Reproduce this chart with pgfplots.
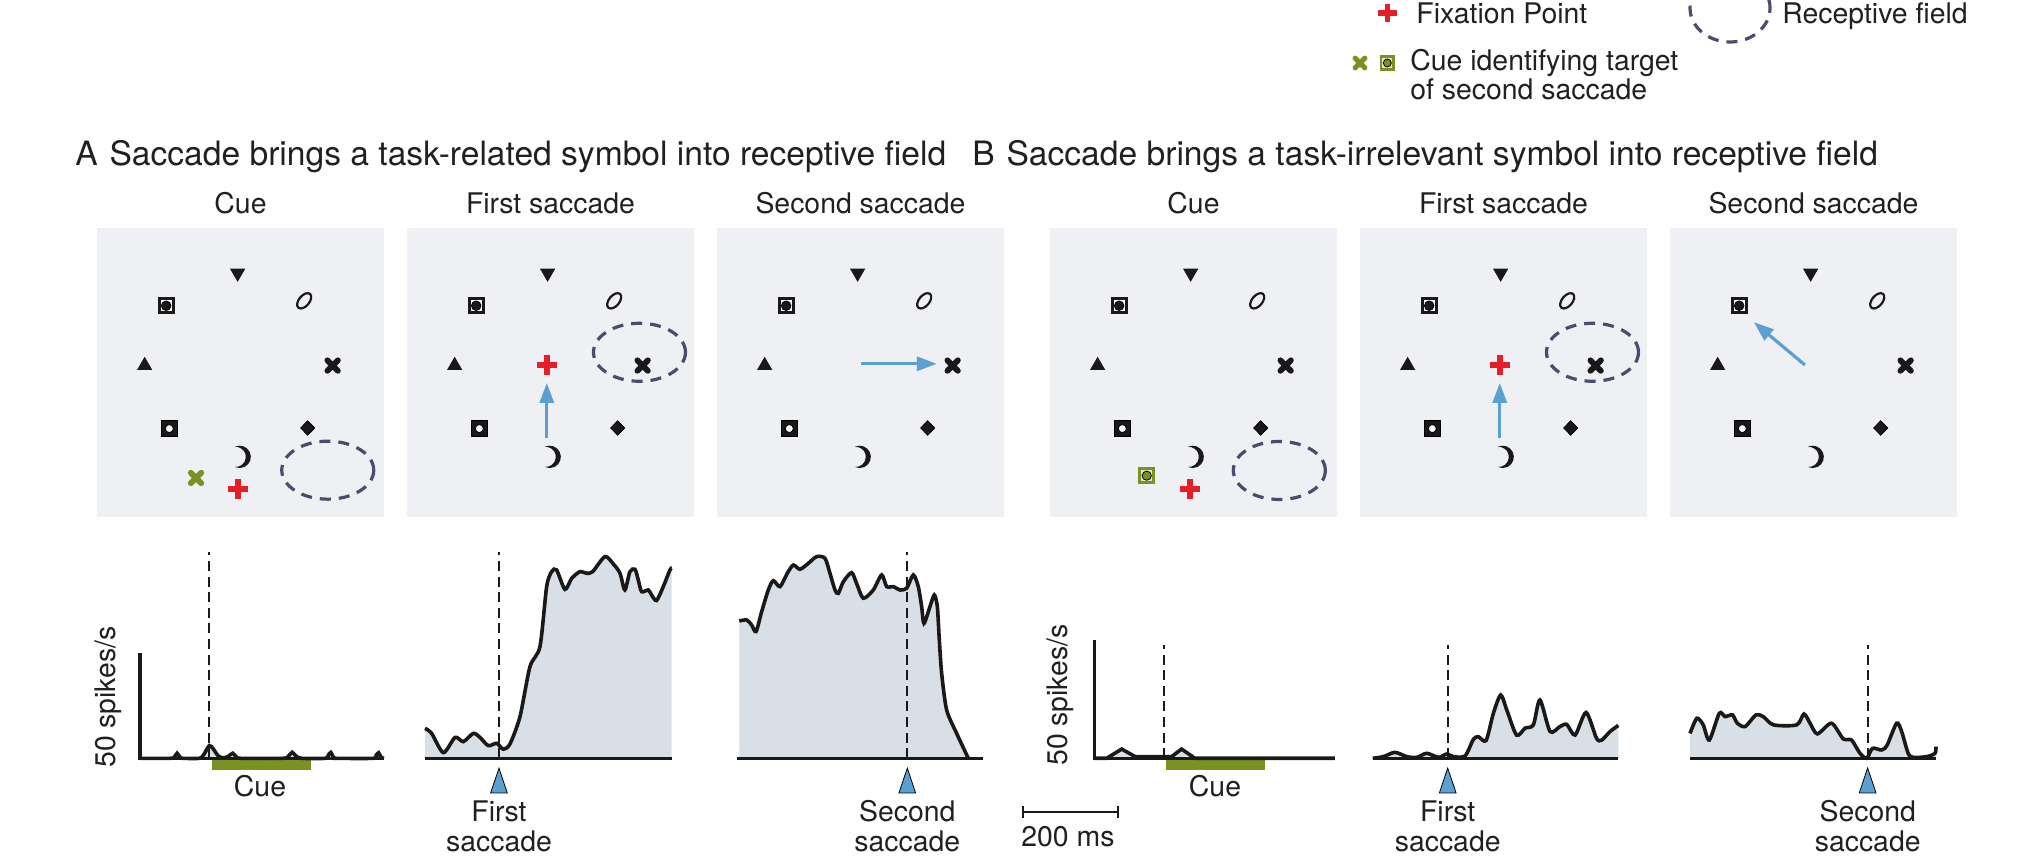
\documentclass[border=0pt]{standalone}
\usepackage{fontspec}
\setmainfont{TeX Gyre Heros}
\usepackage{pgfplots}
\pgfplotsset{compat=1.18}
\usepackage{pgfplotstable}
\usetikzlibrary{arrows.meta}

\definecolor{txt}{RGB}{35,31,32}
\definecolor{sqc}{RGB}{239,240,243}
\definecolor{fillc}{RGB}{216,223,230}
\definecolor{bluec}{RGB}{91,160,210}
\definecolor{greenc}{RGB}{122,146,36}
\definecolor{redc}{RGB}{230,30,40}
\definecolor{rfc}{RGB}{74,76,110}
\definecolor{symc}{RGB}{25,25,25}

\pgfdeclareplotmark{moon}{%
  \pgfpathmoveto{\pgfqpoint{-0.446\pgfplotmarksize}{0.895\pgfplotmarksize}}%
  \pgfpatharc{116.5}{-116.5}{\pgfplotmarksize}%
  \pgfpatharc{-96.1}{96.1}{0.9\pgfplotmarksize}%
  \pgfpathclose
  \pgfusepathqfill
}

\newcommand\lab{\fontsize{14.2bp}{17bp}\selectfont}
\newcommand\ttl{\fontsize{16.8bp}{20bp}\selectfont}

\tikzset{
 rf/.style={rfc,line width=1.6bp,dash pattern=on 5.5bp off 4bp},
 base/.style={line width=1.7bp,symc},
}
\pgfplotsset{
 sq/.style={scale only axis,width=143.5bp,height=144.5bp,xmin=0,xmax=1,ymin=0,ymax=1,y dir=reverse,hide axis,clip=false,anchor=north west},
 trA/.style={x=0.244bp,y=1.056bp,hide axis,clip=false,ymin=0,ymax=100,anchor=south west},
 trB/.style={x=0.244bp,y=1.185bp,hide axis,clip=false,ymin=0,ymax=50,anchor=south west},
 trace/.style={line width=1.8bp,symc,smooth,tension=0.45},
 tfill/.style={fill=fillc,draw=none,smooth,tension=0.45},
 dline/.style={line width=1.1bp,symc,dash pattern=on 5bp off 2.8bp},
 saccmark/.style={only marks,mark=triangle*,mark size=8.3bp,mark options={xscale=0.58,fill=bluec,draw=none}},
 sarrow/.style={bluec,line width=1.6bp,-{Triangle[length=10bp,width=7bp]}},
}

\newcommand\basesyms{%
\fill[sqc] (axis cs:0,0) rectangle (axis cs:1,1);
\addplot[only marks,mark=triangle*,mark size=4bp,mark options={rotate=180,fill=symc,draw=symc}] coordinates {(0.49,0.156)};
\addplot[only marks,mark=square*,mark size=3.5bp,mark options={fill=white,draw=symc,line width=1.5bp}] coordinates {(0.241,0.269)};
\addplot[only marks,mark=*,mark size=2.4bp,mark options={fill=symc,draw=none}] coordinates {(0.241,0.269)};
\addplot[only marks,mark=o,mark size=4.5bp,mark options={rotate=-40,xscale=0.58,draw=symc,line width=1.1bp}] coordinates {(0.722,0.252)};
\addplot[only marks,mark=triangle*,mark size=4bp,mark options={fill=symc,draw=symc}] coordinates {(0.166,0.476)};
\addplot[only marks,mark=x,mark size=3.7bp,mark options={draw=symc,line width=2.9bp,line cap=round}] coordinates {(0.821,0.476)};
\addplot[only marks,mark=square*,mark size=4.1bp,mark options={fill=symc,draw=none}] coordinates {(0.252,0.694)};
\addplot[only marks,mark=*,mark size=2bp,mark options={fill=white,draw=none}] coordinates {(0.252,0.694)};
\addplot[only marks,mark=diamond*,mark size=3.6bp,mark options={xscale=1.3,fill=symc,draw=none}] coordinates {(0.734,0.692)};
\addplot[only marks,mark=moon,mark size=5.6bp,mark options={fill=symc,draw=none}] coordinates {(0.497,0.792)};
}

\pgfplotstableread{
t r
-142 0
-80 0
-72 0.5
-66 2.4
-60 0.5
-54 0
-20 0
-12 1.5
0 6.0
8 4.5
18 1.2
28 0.2
38 0.8
48 2.4
56 0.5
64 0
150 0
162 1.0
170 2.8
178 1.0
190 0
238 0
244 1.5
249 2.8
255 0.3
260 0
336 0
342 1.5
347 2.6
352 0.5
358 0
}\Aone

\pgfplotstableread{
t r
-151.6 14.2
-138 11.8
-114 2.7
-90 9.9
-73 7.9
-52.6 11.8
-39 9.9
-21.9 6.0
-4.8 7.1
8.9 4.3
22.5 6.8
43 19.7
63.5 43.4
84 52.9
97.7 81.3
108 88.4
118 89.2
135.2 80.0
149 85.2
166 88.4
179.6 87.6
192 88.4
217.2 95.5
234.3 92.0
248 87.6
258 79.7
268.4 88.4
278.7 89.5
285.5 84.4
292.3 78.9
306 79.7
312.8 77.3
323 74.7
336.7 81.3
350.4 89.2
354 90
}\Atwo

\pgfplotstableread{
t r
-344.3 65.0
-329.2 65.5
-319 63.1
-310 60.0
-298.5 69.4
-284.8 79.7
-274.6 84.1
-260.9 81.3
-245.9 87.6
-233.6 91.5
-220 89.5
-202.9 92.3
-185.8 95.5
-168.7 94.7
-158.5 87.6
-148.2 79.7
-141.4 78.1
-131.1 83.6
-114.1 87.9
-103.8 82.7
-90.2 75.8
-69.7 79.7
-52.6 86.8
-42.3 81.3
-28.7 81.3
-15 79.7
-1.4 80.5
12.3 86.8
22.5 81.3
29.4 71.8
34.2 63.9
46.4 71.8
55.3 77.3
61.5 71.8
65.6 56
70.4 40.2
80.6 22.9
101.1 11.8
125 0
}\Athree

\pgfplotstableread{
t r
-142.8 0
-117.5 0
-86.7 3.9
-59 0.7
-1.4 0.7
15.7 0.7
36 3.9
63.5 0
350.4 0
}\Bone

\pgfplotstableread{
t r
-153.7 0
-132 0.7
-108 2.5
-84 0.7
-63.5 0.4
-43 2.1
-19 0.4
-2 1.8
11.6 0.7
35.5 1.0
52.6 8.0
62.8 9.1
78.6 7.5
93.6 19.0
108.6 26.7
121 20.4
141 9.8
158.5 12.7
175.5 14.1
189 24.6
209.7 11.3
230 13.4
243.9 14.3
261 9.8
283.5 19.3
305 8.4
315.6 7.7
332.7 11.3
347.7 13.6
349.6 13.9
}\Btwo

\pgfplotstableread{
t r
-364 10.5
-350 16.9
-337 14.1
-324.5 7.7
-304 19
-292 17.6
-277 18.3
-267 14.8
-251 13.4
-229 18.3
-214 17.6
-193 14.1
-145.5 14.1
-130.5 18.7
-118 14.8
-103 10.3
-74 14.8
-50 8.2
-33 7.7
-15.7 2.1
-2 0
10 4.2
28.7 3.5
40 5.6
59.4 14.8
69.7 11.3
83 2.1
93.6 0.4
121 0.7
138 2.1
140 4.9
}\Bthree

\begin{document}
\begin{tikzpicture}
\useasboundingbox (0,0) rectangle (1013bp,434bp);
% ---------- master layer: texts, legend, positions ----------
\begin{axis}[at={(0,0)},anchor=south west,scale only axis,width=1013bp,height=434bp,
  xmin=0,xmax=2026,ymin=0,ymax=868,y dir=reverse,hide axis,clip=false]
 \coordinate (sA1) at (axis cs:97,228);
 \coordinate (sA2) at (axis cs:407,228);
 \coordinate (sA3) at (axis cs:717,228);
 \coordinate (sB1) at (axis cs:1050,228);
 \coordinate (sB2) at (axis cs:1360,228);
 \coordinate (sB3) at (axis cs:1670,228);
 \coordinate (pA1) at (axis cs:140,758.3);
 \coordinate (pA2) at (axis cs:425,758.3);
 \coordinate (pA3) at (axis cs:736.7,758.3);
 \coordinate (pB1) at (axis cs:1094.3,758.3);
 \coordinate (pB2) at (axis cs:1372.7,758.3);
 \coordinate (pB3) at (axis cs:1690,758.3);
 % titles
 \node[anchor=base west,inner sep=0,font=\ttl,text=txt] at (axis cs:75,166) {A\hspace{0.35em}Saccade brings a task-related symbol into receptive field};
 \node[anchor=base west,inner sep=0,font=\ttl,text=txt] at (axis cs:972,166) {B\hspace{0.35em}Saccade brings a task-irrelevant symbol into receptive field};
 % subtitles
 \node[anchor=base,inner sep=0,font=\lab,text=txt] at (axis cs:240.5,213) {Cue};
 \node[anchor=base,inner sep=0,font=\lab,text=txt] at (axis cs:550.5,213) {First saccade};
 \node[anchor=base,inner sep=0,font=\lab,text=txt] at (axis cs:860.5,213) {Second saccade};
 \node[anchor=base,inner sep=0,font=\lab,text=txt] at (axis cs:1193.5,213) {Cue};
 \node[anchor=base,inner sep=0,font=\lab,text=txt] at (axis cs:1503.5,213) {First saccade};
 \node[anchor=base,inner sep=0,font=\lab,text=txt] at (axis cs:1813.5,213) {Second saccade};
 % bottom labels
 \node[anchor=base,inner sep=0,font=\lab,text=txt] at (axis cs:260,796.7) {Cue};
 \node[anchor=base,inner sep=0,font=\lab,text=txt] at (axis cs:1215,796.7) {Cue};
 \node[anchor=base,inner sep=0,font=\lab,text=txt] at (axis cs:499,821.7) {First};
 \node[anchor=base,inner sep=0,font=\lab,text=txt] at (axis cs:499,851.7) {saccade};
 \node[anchor=base,inner sep=0,font=\lab,text=txt] at (axis cs:1447.7,821.7) {First};
 \node[anchor=base,inner sep=0,font=\lab,text=txt] at (axis cs:1447.7,851.7) {saccade};
 \node[anchor=base,inner sep=0,font=\lab,text=txt] at (axis cs:907.3,821.7) {Second};
 \node[anchor=base,inner sep=0,font=\lab,text=txt] at (axis cs:907.3,851.7) {saccade};
 \node[anchor=base,inner sep=0,font=\lab,text=txt] at (axis cs:1867.7,821.7) {Second};
 \node[anchor=base,inner sep=0,font=\lab,text=txt] at (axis cs:1867.7,851.7) {saccade};
 \node[rotate=90,inner sep=0,font=\lab,text=txt] at (axis cs:108,697) {50 spikes/s};
 \node[rotate=90,inner sep=0,font=\lab,text=txt] at (axis cs:1060,695) {50 spikes/s};
 \node[anchor=base west,inner sep=0,font=\lab,text=txt] at (axis cs:1021,846.7) {200 ms};
 % legend
 \addplot[only marks,mark=+,mark size=4.6bp,mark options={draw=redc,line width=2.8bp}] coordinates {(1387.3,13.3)};
 \node[anchor=base west,inner sep=0,font=\lab,text=txt] at (axis cs:1416,23.3) {Fixation Point};
 \draw[rf] (axis cs:1730,8) ellipse [x radius=20bp,y radius=17bp];
 \node[anchor=base west,inner sep=0,font=\lab,text=txt] at (axis cs:1782,23.3) {Receptive field};
 \addplot[only marks,mark=x,mark size=3.4bp,mark options={draw=greenc,line width=2.6bp,line cap=round}] coordinates {(1360,63)};
 \addplot[only marks,mark=square*,mark size=3.2bp,mark options={fill={rgb,255:red,225;green,230;blue,200},draw=greenc,line width=1.3bp}] coordinates {(1387.3,63)};
 \addplot[only marks,mark=*,mark size=2bp,mark options={fill=greenc,draw=none}] coordinates {(1387.3,63)};
 \node[anchor=base west,inner sep=0,font=\lab,text=txt] at (axis cs:1410,70.7) {Cue identifying target};
 \node[anchor=base west,inner sep=0,font=\lab,text=txt] at (axis cs:1410,100) {of second saccade};
\end{axis}

% ---------- display squares ----------
\begin{axis}[sq,at={(sA1)}]
 \basesyms
 \draw[rf] (axis cs:0.804,0.838) ellipse [x radius=23bp,y radius=14.5bp];
 \addplot[only marks,mark=x,mark size=3.7bp,mark options={draw=greenc,line width=2.9bp,line cap=round}] coordinates {(0.345,0.865)};
 \addplot[only marks,mark=+,mark size=5bp,mark options={draw=redc,line width=3bp}] coordinates {(0.49,0.903)};
\end{axis}
\begin{axis}[sq,at={(sA2)}]
 \basesyms
 \draw[rf] (axis cs:0.81,0.43) ellipse [x radius=23bp,y radius=14.5bp];
 \addplot[sarrow] coordinates {(0.487,0.727) (0.487,0.536)};
 \addplot[only marks,mark=+,mark size=5bp,mark options={draw=redc,line width=3bp}] coordinates {(0.487,0.473)};
\end{axis}
\begin{axis}[sq,at={(sA3)}]
 \basesyms
 \addplot[sarrow] coordinates {(0.501,0.47) (0.766,0.47)};
\end{axis}
\begin{axis}[sq,at={(sB1)}]
 \basesyms
 \draw[rf] (axis cs:0.799,0.839) ellipse [x radius=23bp,y radius=14.5bp];
 \addplot[only marks,mark=square*,mark size=3.5bp,mark options={fill={rgb,255:red,225;green,230;blue,200},draw=greenc,line width=1.4bp}] coordinates {(0.337,0.857)};
 \addplot[only marks,mark=*,mark size=2.3bp,mark options={fill=greenc,draw=none}] coordinates {(0.337,0.857)};
 \addplot[only marks,mark=+,mark size=5bp,mark options={draw=redc,line width=3bp}] coordinates {(0.488,0.903)};
\end{axis}
\begin{axis}[sq,at={(sB2)}]
 \basesyms
 \draw[rf] (axis cs:0.81,0.43) ellipse [x radius=23bp,y radius=14.5bp];
 \addplot[sarrow] coordinates {(0.487,0.727) (0.487,0.536)};
 \addplot[only marks,mark=+,mark size=5bp,mark options={draw=redc,line width=3bp}] coordinates {(0.487,0.473)};
\end{axis}
\begin{axis}[sq,at={(sB3)}]
 \basesyms
 \addplot[sarrow] coordinates {(0.47,0.474) (0.292,0.326)};
\end{axis}

% ---------- response traces ----------
\begin{axis}[trA,at={(pA1)},xmin=-142,xmax=358]
 \fill[greenc] (axis cs:5,-0.33) rectangle (axis cs:208,-5.5);
 \addplot[tfill] table[x=t,y=r] {\Aone} \closedcycle;
 \addplot[dline] coordinates {(0,0) (0,97.8)};
 \addplot[trace] table[x=t,y=r] {\Aone};
 \draw[base] (axis cs:-142,50) -- (axis cs:-142,0) -- (axis cs:358,0);
\end{axis}
\begin{axis}[trA,at={(pA2)},xmin=-151.6,xmax=354]
 \addplot[tfill] table[x=t,y=r] {\Atwo} \closedcycle;
 \addplot[dline] coordinates {(0,0) (0,97.8)};
 \addplot[trace] table[x=t,y=r] {\Atwo};
 \draw[base] (axis cs:-151.6,0) -- (axis cs:354,0);
 \addplot[saccmark] coordinates {(0,-12.5)};
\end{axis}
\begin{axis}[trA,at={(pA3)},xmin=-349.6,xmax=155.7]
 \addplot[tfill] table[x=t,y=r] {\Athree} \closedcycle;
 \addplot[dline] coordinates {(0,0) (0,97.8)};
 \addplot[trace] table[x=t,y=r] {\Athree};
 \draw[base] (axis cs:-349.6,0) -- (axis cs:155.7,0);
 \addplot[saccmark] coordinates {(0,-12.5)};
\end{axis}
\begin{axis}[trB,at={(pB1)},xmin=-142.8,xmax=350.4]
 \fill[greenc] (axis cs:4.1,-0.3) rectangle (axis cs:207,-4.9);
 \addplot[fill=fillc,draw=none] table[x=t,y=r] {\Bone} \closedcycle;
 \addplot[dline] coordinates {(0,0) (0,47.8)};
 \addplot[line width=1.8bp,symc] table[x=t,y=r] {\Bone};
 \draw[base] (axis cs:-142.8,50) -- (axis cs:-142.8,0) -- (axis cs:350.4,0);
 \draw[line width=1bp,symc,{Bar[width=6bp]}-{Bar[width=6bp]}] (axis cs:-291.6,-22.5) -- (axis cs:-91.6,-22.5);
\end{axis}
\begin{axis}[trB,at={(pB2)},xmin=-153.7,xmax=349.6]
 \addplot[tfill] table[x=t,y=r] {\Btwo} \closedcycle;
 \addplot[dline] coordinates {(0,0) (0,47.8)};
 \addplot[trace] table[x=t,y=r] {\Btwo};
 \draw[base] (axis cs:-153.7,0) -- (axis cs:349.6,0);
 \addplot[saccmark] coordinates {(0,-11.1)};
\end{axis}
\begin{axis}[trB,at={(pB3)},xmin=-364,xmax=140]
 \addplot[tfill] table[x=t,y=r] {\Bthree} \closedcycle;
 \addplot[dline] coordinates {(0,0) (0,47.8)};
 \addplot[trace] table[x=t,y=r] {\Bthree};
 \draw[base] (axis cs:-364,0) -- (axis cs:140,0);
 \addplot[saccmark] coordinates {(0,-11.1)};
\end{axis}
\end{tikzpicture}
\end{document}
